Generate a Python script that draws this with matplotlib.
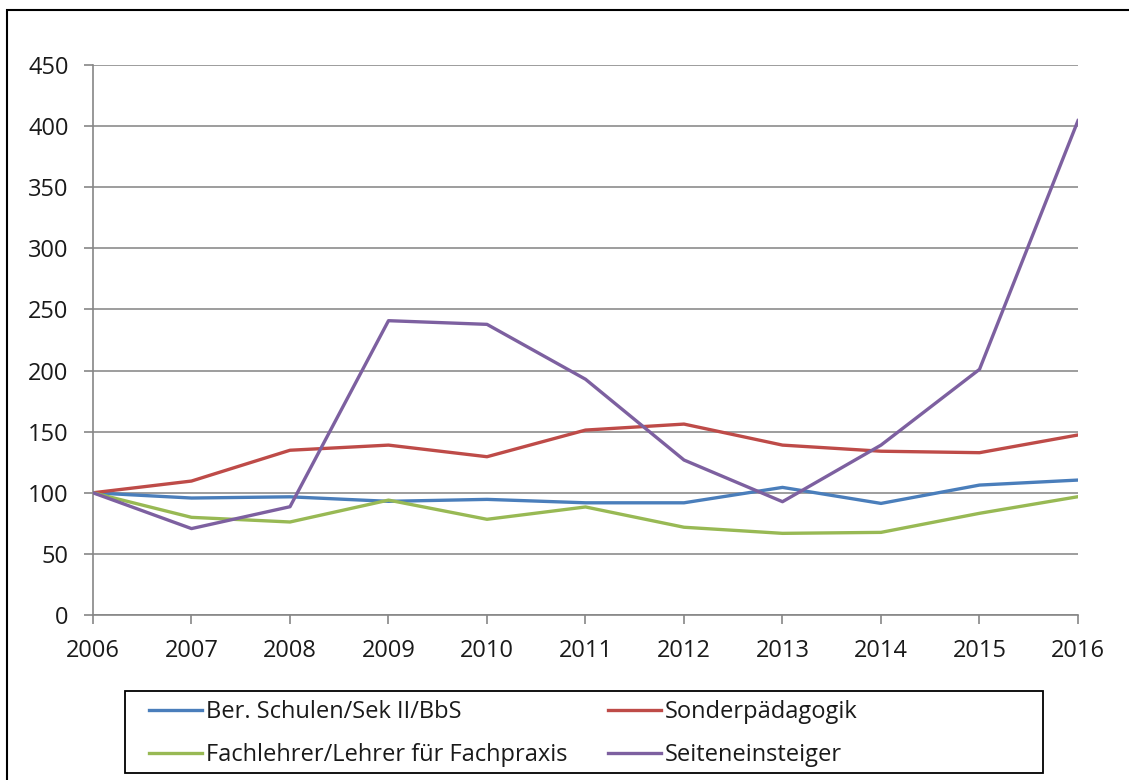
import matplotlib
matplotlib.use("Agg")
import matplotlib.pyplot as plt
from matplotlib.patches import Rectangle

years = [2006, 2007, 2008, 2009, 2010, 2011, 2012, 2013, 2014, 2015, 2016]
ber_schulen = [100, 95.7, 96.7, 93.0, 94.6, 91.8, 91.8, 104.4, 91.3, 106.3, 110.4]
sonderpaed = [100, 109.6, 134.8, 139.0, 129.5, 151.3, 156.2, 139.0, 134.0, 132.8, 147.3]
fachlehrer = [100, 79.9, 76.1, 94.0, 78.3, 88.4, 71.8, 66.8, 67.6, 83.2, 96.8]
seitenein = [100, 70.7, 88.6, 240.8, 237.8, 192.9, 126.8, 92.7, 139.0, 201.0, 404.5]

labels = ["Ber. Schulen/Sek II/BbS", "Sonderpädagogik",
          "Fachlehrer/Lehrer für Fachpraxis", "Seiteneinsteiger"]
colors = ["#4A7EBB", "#BE4B48", "#98B954", "#7D60A0"]
yticks = [0, 50, 100, 150, 200, 250, 300, 350, 400, 450]

plt.rcParams['font.family'] = ['Open Sans', 'DejaVu Sans']
FS = 17
W, H = 1129, 780
fig = plt.figure(figsize=(W / 100, H / 100), dpi=100)

# outer chart border
fig.add_artist(Rectangle((7 / W, -0.05), 1.2, 1 - 10 / H + 0.05, transform=fig.transFigure,
                         fill=False, edgecolor="black", linewidth=1.5))

ax = fig.add_axes([93 / W, 1 - 615 / H, 985 / W, 550 / H])
series = [ber_schulen, sonderpaed, fachlehrer, seitenein]
lines = []
for vals, lab, col in zip(series, labels, colors):
    ln, = ax.plot(years, vals, color=col, linewidth=2.4, label=lab, solid_joinstyle="round",
                  zorder=3)
    lines.append(ln)

ax.set_xlim(years[0], years[-1])
ax.set_ylim(0, 450)
ax.set_xticks(years)
ax.set_yticks(yticks)
ax.tick_params(axis="both", labelsize=FS, colors="#868686", labelcolor="#1a1a1a",
               length=6.5, width=1.2)
ax.tick_params(axis="y", pad=11)
ax.tick_params(axis="x", pad=10.5)
ax.grid(axis="y", color="#8c8c8c", linewidth=1.2)
ax.set_axisbelow(True)
for s in ["top", "right"]:
    ax.spines[s].set_visible(False)
for s in ["left", "bottom"]:
    ax.spines[s].set_color("#868686")
    ax.spines[s].set_linewidth(1.2)

# legend frame
fig.add_artist(Rectangle((125 / W, 1 - 773 / H), 918 / W, 82 / H, transform=fig.transFigure,
                         fill=False, edgecolor="black", linewidth=1.3))

common = dict(frameon=False, fontsize=FS, handlelength=2.25, handletextpad=0.15,
              labelspacing=0.8, borderpad=0, borderaxespad=0, loc="upper left")
leg1 = fig.legend(handles=[lines[0], lines[2]], bbox_to_anchor=(149 / W, 1 - 700 / H), **common)
leg2 = fig.legend(handles=[lines[1], lines[3]], bbox_to_anchor=(608 / W, 1 - 700 / H), **common)
for leg in (leg1, leg2):
    for t in leg.get_texts():
        t.set_color("#1a1a1a")

fig.savefig("out.png", dpi=100)
